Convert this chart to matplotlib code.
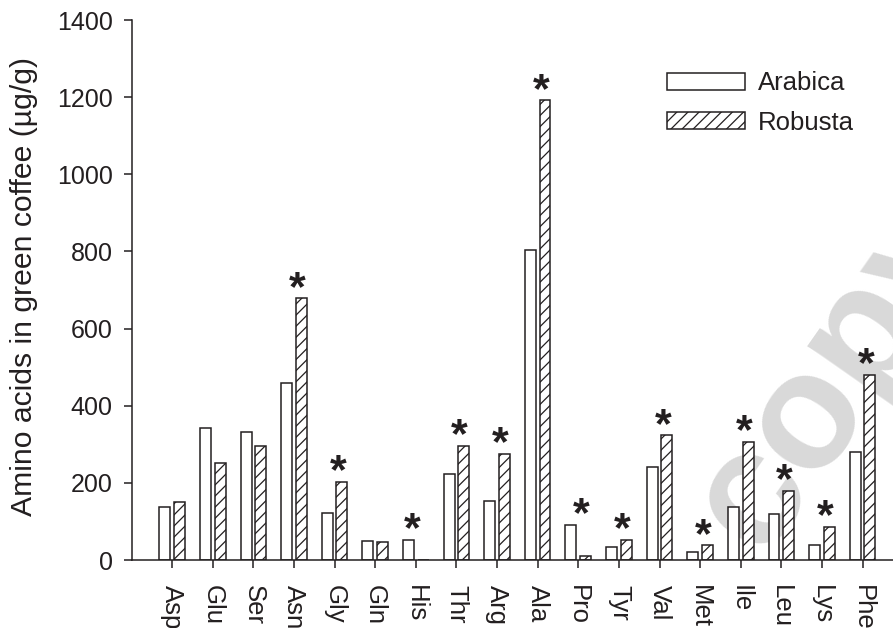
import matplotlib
matplotlib.use("Agg")
import matplotlib.pyplot as plt
from matplotlib.patches import Patch
import numpy as np

# amino acid contents in green coffee (ug/g)
amino_acids = ["Asp", "Glu", "Ser", "Asn", "Gly", "Gln", "His", "Thr", "Arg",
               "Ala", "Pro", "Tyr", "Val", "Met", "Ile", "Leu", "Lys", "Phe"]
arabica = [138, 341, 331, 458, 123, 49, 53, 223, 152,
           805, 91, 34, 240, 20, 137, 118, 40, 281]
robusta = [151, 251, 296, 678, 203, 46, 0, 296, 275,
           1192, 10, 53, 323, 38, 307, 180, 86, 480]
significant = [False, False, False, True, True, False, True, True, True,
               True, True, True, True, True, True, True, True, True]

INK = "#231f20"
FONT = ["Liberation Sans", "DejaVu Sans"]

plt.rcParams.update({
    "font.family": FONT,
    "font.size": 18.5,
    "text.color": INK,
    "axes.edgecolor": INK,
    "axes.linewidth": 1.1,
    "xtick.color": INK,
    "ytick.color": INK,
    "hatch.color": INK,
    "hatch.linewidth": 0.9,
})

fig = plt.figure(figsize=(8.93, 6.28), dpi=100)

# faint watermark behind the plot
fig.text(761 / 893, 1 - 557 / 628, "copy", rotation=55, rotation_mode="anchor",
         fontsize=119, fontweight="bold", color="#d9d9d9",
         ha="left", va="baseline", zorder=-5, family=FONT)

ax = fig.add_axes([132 / 893, 1 - 560 / 628, 761 / 893, 540 / 628])
ax.set_facecolor("none")

x = np.arange(len(amino_acids))
w = 0.27
off = 0.18
ax.bar(x - off, arabica, w, facecolor="white", edgecolor=INK, linewidth=1.1)
ax.bar(x + off, robusta, w, facecolor="white", edgecolor=INK, linewidth=1.1,
       hatch="///")

# significance marks above each pair
for i, sig in enumerate(significant):
    if not sig:
        continue
    if robusta[i] > 0:
        xs, top = x[i] + 0.08, max(arabica[i], robusta[i])
    else:
        xs, top = x[i] - 0.1, arabica[i]
    ax.annotate("*", (xs, top), xytext=(0, -1), textcoords="offset points",
                ha="center", va="baseline", fontsize=31, fontweight="bold",
                color=INK)

ax.set_xlim(-0.99, 17.75)
ax.set_ylim(0, 1400)
ax.set_yticks(range(0, 1401, 200))
ax.set_xticks(x)
ax.set_xticklabels(amino_acids, rotation=270, ha="center", va="top")
ax.tick_params(axis="both", direction="out", length=6, width=1.1)
ax.tick_params(axis="x", pad=12)
ax.tick_params(axis="y", pad=8, labelsize=18)
for s in ["top", "right"]:
    ax.spines[s].set_visible(False)

fig.text(24 / 893, 1 - 287 / 628, "Amino acids in green coffee (\u00b5g/g)",
         rotation=90, ha="center", va="center", fontsize=21.7)

handles = [Patch(facecolor="white", edgecolor=INK, linewidth=1.1, label="Arabica"),
           Patch(facecolor="white", edgecolor=INK, linewidth=1.1, hatch="///",
                 label="Robusta")]
ax.legend(handles=handles, loc="upper left", bbox_to_anchor=(0.69, 0.924),
          frameon=False, handlelength=3.04, handleheight=0.62,
          handletextpad=0.5, labelspacing=0.6, borderaxespad=0)

fig.savefig("out.png", dpi=100)
